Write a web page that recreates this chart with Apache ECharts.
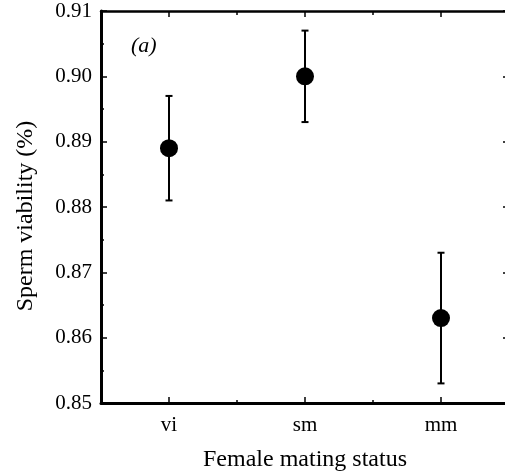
<!DOCTYPE html>
<html>
<head>
<meta charset="utf-8">
<script src="https://cdn.jsdelivr.net/npm/echarts@6/dist/echarts.min.js"></script>
<style>
  html, body { margin: 0; padding: 0; background: #fff; }
  #chart { width: 505px; height: 476px; }
</style>
</head>
<body>
<div id="chart"></div>
<script>
// data
var categories = ["vi", "sm", "mm"];
var meanVals = [0.889, 0.900, 0.863];
var lowVals = [0.881, 0.893, 0.853];
var highVals = [0.897, 0.907, 0.873];
var majorX = [1, 2, 3];
var minorX = [1.5, 2.5];

var font = "'Liberation Serif', 'Times New Roman', serif";

var pointData = [];
var barData = [];
categories.forEach(function (c, i) {
  pointData.push([i + 1, meanVals[i]]);
  barData.push([i + 1, lowVals[i], highVals[i]]);
});

var myChart = echarts.init(document.getElementById("chart"));

function xAx(pos, ticks, len, showLine, showLabel) {
  return {
    type: "value",
    position: pos,
    min: 0.5,
    max: 3.5,
    splitLine: { show: false },
    axisLine: { show: showLine, onZero: false, lineStyle: { color: "#000", width: pos == "bottom" ? 3 : 2.5 } },
    axisTick: { show: true, inside: true, length: len, customValues: ticks, lineStyle: { color: "#000", width: 1.5 } },
    axisLabel: {
      show: showLabel,
      customValues: majorX,
      margin: 12,
      color: "#000",
      fontFamily: font,
      fontSize: 21,
      formatter: function (v) { return categories[Math.round(v) - 1] || ""; }
    }
  };
}

var bottomMain = xAx("bottom", majorX, 6, true, true);
bottomMain.name = "Female mating status";
bottomMain.nameLocation = "middle";
bottomMain.nameGap = 45;
bottomMain.nameTextStyle = { color: "#000", fontFamily: font, fontSize: 24 };

var option = {
  backgroundColor: "#fff",
  animation: false,
  grid: { left: 101, top: 11, right: -4, bottom: 73, outerBoundsMode: "none" },
  xAxis: [
    bottomMain,
    xAx("bottom", minorX, 3, false, false),
    xAx("top", majorX, 6, true, false),
    xAx("top", minorX, 4, false, false)
  ],
  yAxis: [
    {
      type: "value",
      position: "left",
      min: 0.85,
      max: 0.91,
      interval: 0.01,
      name: "Sperm viability (%)",
      nameLocation: "middle",
      nameGap: 63,
      nameTextStyle: { color: "#000", fontFamily: font, fontSize: 24, padding: [0, 18, 0, 0] },
      splitLine: { show: false },
      axisLine: { show: true, onZero: false, lineStyle: { color: "#000", width: 3 } },
      axisTick: { inside: true, length: 6, lineStyle: { color: "#000", width: 1.5 } },
      minorTick: { show: true, splitNumber: 2, length: 3, lineStyle: { color: "#000", width: 1.5 } },
      axisLabel: {
        margin: 9,
        color: "#000",
        fontFamily: font,
        fontSize: 21,
        formatter: function (v) { return v.toFixed(2); }
      }
    },
    {
      type: "value",
      position: "right",
      min: 0.85,
      max: 0.91,
      interval: 0.01,
      splitLine: { show: false },
      axisLine: { show: true, onZero: false, lineStyle: { color: "#000", width: 2.5 } },
      axisTick: { inside: true, length: 6, lineStyle: { color: "#000", width: 1.5 } },
      minorTick: { show: true, splitNumber: 2, length: 3, lineStyle: { color: "#000", width: 1.5 } },
      axisLabel: { show: false }
    }
  ],
  graphic: [
    {
      type: "text",
      left: 131,
      top: 35,
      style: { text: "(a)", font: "italic 22px " + font, fill: "#000" }
    }
  ],
  series: [
    {
      type: "custom",
      xAxisIndex: 0,
      yAxisIndex: 0,
      data: barData,
      renderItem: function (params, api) {
        var lo = api.coord([api.value(0), api.value(1)]);
        var hi = api.coord([api.value(0), api.value(2)]);
        var cap = 3.5;
        var st = { stroke: "#000", lineWidth: 2 };
        return {
          type: "group",
          children: [
            { type: "line", shape: { x1: lo[0], y1: lo[1], x2: hi[0], y2: hi[1] }, style: st },
            { type: "line", shape: { x1: lo[0] - cap, y1: lo[1], x2: lo[0] + cap, y2: lo[1] }, style: st },
            { type: "line", shape: { x1: hi[0] - cap, y1: hi[1], x2: hi[0] + cap, y2: hi[1] }, style: st }
          ]
        };
      },
      z: 2
    },
    {
      type: "scatter",
      xAxisIndex: 0,
      yAxisIndex: 0,
      data: pointData,
      symbol: "circle",
      symbolSize: 18,
      itemStyle: { color: "#000", opacity: 1 },
      z: 3
    }
  ]
};

myChart.setOption(option);
</script>
</body>
</html>
